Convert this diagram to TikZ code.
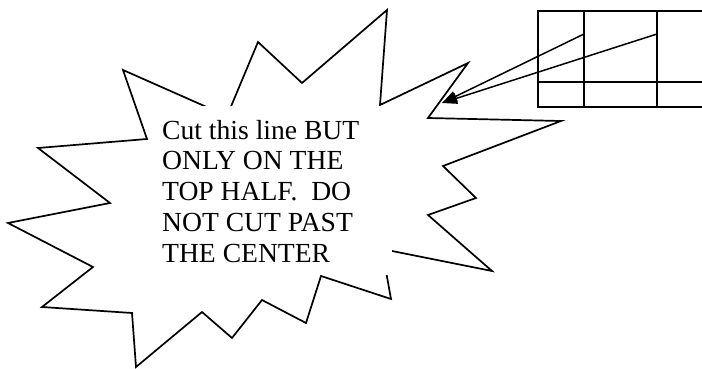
\documentclass[tikz,border=0pt]{standalone}
\usepackage{fontspec}
\setmainfont{Liberation Serif}
\usetikzlibrary{arrows.meta}
\begin{document}
\begin{tikzpicture}[x=1pt,y=-1pt,
  outline/.style={draw=black,line width=1.7pt,line join=miter},
  gridline/.style={draw=black,line width=1.7pt},
  cover/.style={fill=white,draw=none,inner sep=0pt,anchor=north west},
  msgtext/.style={font=\fontsize{27.6}{30.75}\selectfont,align=left,anchor=base west,inner sep=0pt},
  pointer/.style={draw=black,line width=1.5pt,-{Triangle[length=15pt,width=11pt]}}]
\clip (0,0) rectangle (702,369);
\useasboundingbox (0,0) rectangle (702,369);
% star burst callout
\draw[outline] (123,70) -- (227,116) -- (258,42) -- (302,83) -- (387,10) -- (380,105)
  -- (468,63) -- (428,118) -- (561,121) -- (443,166) -- (476,198) -- (428,215)
  -- (492,271) -- (382,249) -- (391,299) -- (321,276) -- (306,323) -- (262,300)
  -- (232,338) -- (202,312) -- (136,367) -- (132,313) -- (42,307) -- (93,267)
  -- (8,223) -- (110,203) -- (38,148) -- (147,139) -- cycle;
% white text area covering the star outline
\node[cover,minimum width=240pt,minimum height=169pt] (coverbox) at (152,106) {};
\node[msgtext] (msg) at (162,262) {Cut this line BUT\\ONLY ON THE\\TOP HALF.\ \ DO\\NOT CUT PAST\\THE CENTER};
% grid
\node[gridline,inner sep=0pt,anchor=north west,minimum width=200pt,minimum height=96pt] (grid) at (537,10) {};
\draw[gridline] (584,10) -- (584,106);
\draw[gridline] (657,10) -- (657,106);
\draw[gridline] (537,82) -- (737,82);
% pointers
\coordinate (p1) at (584,34);
\coordinate (p2) at (657,34);
\coordinate (tip) at (442,103);
\draw[pointer] (p1) -- (tip);
\draw[pointer] (p2) -- (tip);
\end{tikzpicture}
\end{document}
